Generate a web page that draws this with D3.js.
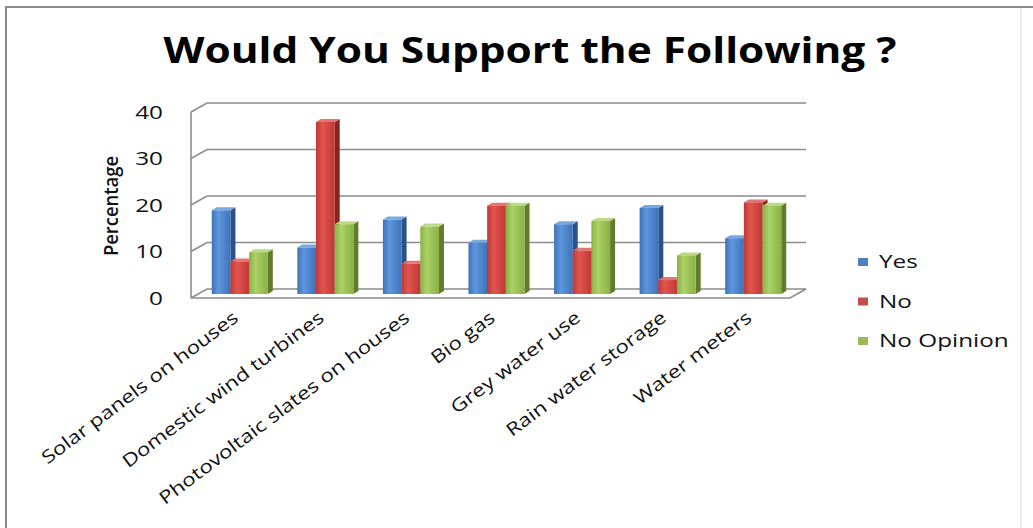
<!DOCTYPE html>
<html><head><meta charset="utf-8">
<script src="https://cdn.jsdelivr.net/npm/d3@7"></script>
<style>body{margin:0;background:#fff}svg{display:block}</style>
</head><body>
<svg id="c" width="1033" height="528"></svg>
<script>
const title = "Would You Support the Following ?";
const yLabel = "Percentage";
const categories = ["Solar panels on houses","Domestic wind turbines","Photovoltaic slates on houses","Bio gas","Grey water use","Rain water storage","Water meters"];
const seriesNames = ["Yes","No","No Opinion"];
const yesValues = [18, 10, 16, 11, 15, 18.5, 12];
const noValues = [7, 37, 6.5, 19, 9.3, 3, 19.7];
const noOpinionValues = [9, 15, 14.5, 19, 15.7, 8.3, 19];
const yTicks = [0, 10, 20, 30, 40];

const seriesValues = [yesValues, noValues, noOpinionValues];
const colors = [
  {light:"#5e97dd", base:"#3d72b8", side:"#2a518b", top:"#79a8e0", legend:"#4f81bd"},
  {light:"#e2554f", base:"#bf3836", side:"#882420", top:"#e47570", legend:"#c0504d"},
  {light:"#abd267", base:"#8bb146", side:"#607c2c", top:"#bcd985", legend:"#9bbb59"}
];

const svg = d3.select("#c");
const defs = svg.append("defs");
colors.forEach((c,i)=>{
  const g = defs.append("linearGradient").attr("id","g"+i).attr("x1","0").attr("x2","1").attr("y1","0").attr("y2","0");
  g.append("stop").attr("offset","0%").attr("stop-color",c.base);
  g.append("stop").attr("offset","35%").attr("stop-color",c.light);
  g.append("stop").attr("offset","100%").attr("stop-color",c.base);
});

// frame
svg.append("line").attr("x1",5).attr("x2",1033).attr("y1",7).attr("y2",7).attr("stroke","#8a8a8a").attr("stroke-width",2);
svg.append("line").attr("x1",6).attr("x2",6).attr("y1",6).attr("y2",528).attr("stroke","#8a8a8a").attr("stroke-width",2);
svg.append("line").attr("x1",1021).attr("x2",1021).attr("y1",8).attr("y2",528).attr("stroke","#ececec").attr("stroke-width",2);

// geometry
const backX0 = 207, backX1 = 806;
const y = d3.scaleLinear().domain([0,40]).range([289,103]);
const front = {dx:-16, dy:9};
const barOff = {dx:-10, dy:5};
const depth = {dx:5, dy:-3};

const x = d3.scaleBand().domain(categories).range([backX0, backX1]).paddingInner(0.345).paddingOuter(0.1725);
const xs = d3.scaleBand().domain(seriesNames).range([0, x.bandwidth()]);

// walls: gridlines
const grid = svg.append("g").attr("stroke","#8c8c8c").attr("stroke-width",1.6).attr("fill","none");
yTicks.forEach(t=>{
  const yy = y(t);
  grid.append("polyline").attr("points",[[backX0+front.dx,yy+front.dy],[backX0,yy],[backX1,yy]].join(" "));
});
grid.append("line").attr("x1",backX0+front.dx).attr("x2",backX0+front.dx).attr("y1",y(40)+front.dy).attr("y2",y(0)+front.dy);
grid.append("polyline").attr("points",[[backX0+front.dx,y(0)+front.dy],[backX1+front.dx,y(0)+front.dy],[backX1,y(0)]].join(" "));

// bars
const bars = svg.append("g");
categories.forEach((cat,ci)=>{
  seriesNames.forEach((s,si)=>{
    const v = seriesValues[si][ci];
    const x0 = x(cat) + xs(s) + barOff.dx;
    const w = xs.bandwidth();
    const yTop = y(v) + barOff.dy;
    const yBot = y(0) + barOff.dy;
    const c = colors[si];
    bars.append("polygon").attr("fill",c.side)
      .attr("points",[[x0+w,yTop],[x0+w+depth.dx,yTop+depth.dy],[x0+w+depth.dx,yBot+depth.dy],[x0+w,yBot]].join(" "));
    bars.append("polygon").attr("fill",c.top)
      .attr("points",[[x0,yTop],[x0+depth.dx,yTop+depth.dy],[x0+w+depth.dx,yTop+depth.dy],[x0+w,yTop]].join(" "));
    bars.append("rect").attr("x",x0).attr("y",yTop).attr("width",w).attr("height",yBot-yTop).attr("fill","url(#g"+si+")");
  });
});

// stretch helper: anchor 'start' | 'middle' | 'end', applied manually
function stretch(sel, f, anchor){
  sel.each(function(){
    const el = d3.select(this);
    const L = this.getComputedTextLength()*f;
    const x0 = +(el.attr("x")||0);
    const shift = anchor==="end" ? -L : anchor==="middle" ? -L/2 : 0;
    el.attr("text-anchor","start").attr("x", x0+shift).attr("textLength",L).attr("lengthAdjust","spacingAndGlyphs");
  });
}

// y axis labels
const yAxis = d3.axisLeft(y).tickValues(yTicks).tickSize(0).tickPadding(0).tickFormat(d3.format("d"));
const ya = svg.append("g").attr("transform",`translate(${backX0+front.dx-28},${front.dy})`).call(yAxis);
ya.select(".domain").remove();
ya.selectAll("text").attr("x",0).attr("font-family","Open Sans").attr("font-size",18).attr("fill","#111").attr("dy","0.35em");
stretch(ya.selectAll("text"),1.35,"end");

// y title
const yt = svg.append("text").attr("transform","translate(118,206) rotate(-90)")
  .attr("font-family","Open Sans").attr("font-size",19).attr("font-weight",600).attr("fill","#111").text(yLabel);
stretch(yt, 0.97, "middle");

// category labels
const cl = svg.append("g").selectAll("text").data(categories).join("text")
  .attr("transform",d=>`translate(${x(d)+x.bandwidth()/2+front.dx+2},${y(0)+front.dy+17}) rotate(-37)`)
  .attr("dy","0.35em")
  .attr("font-family","Open Sans").attr("font-size",18).attr("fill","#111").text(d=>d);
stretch(cl, 1.24, "end");

// title
const tt = svg.append("text").attr("x",530).attr("y",63)
  .attr("font-family","Open Sans").attr("font-size",35).attr("font-weight",700).attr("fill","#000").text(title);
tt.attr("text-anchor","middle").attr("textLength",733).attr("lengthAdjust","spacingAndGlyphs");

// legend
const lg = svg.append("g").selectAll("g").data(seriesNames).join("g")
  .attr("transform",(d,i)=>`translate(858,${262+i*39.5})`);
lg.append("rect").attr("x",0).attr("y",-4).attr("width",10).attr("height",8).attr("fill",(d,i)=>colors[i].legend);
const lt = lg.append("text").attr("x",21).attr("dy","0.35em").attr("font-family","Open Sans").attr("font-size",18).attr("fill","#111").text(d=>d);
stretch(lt,1.35,"start");
</script>
</body></html>
